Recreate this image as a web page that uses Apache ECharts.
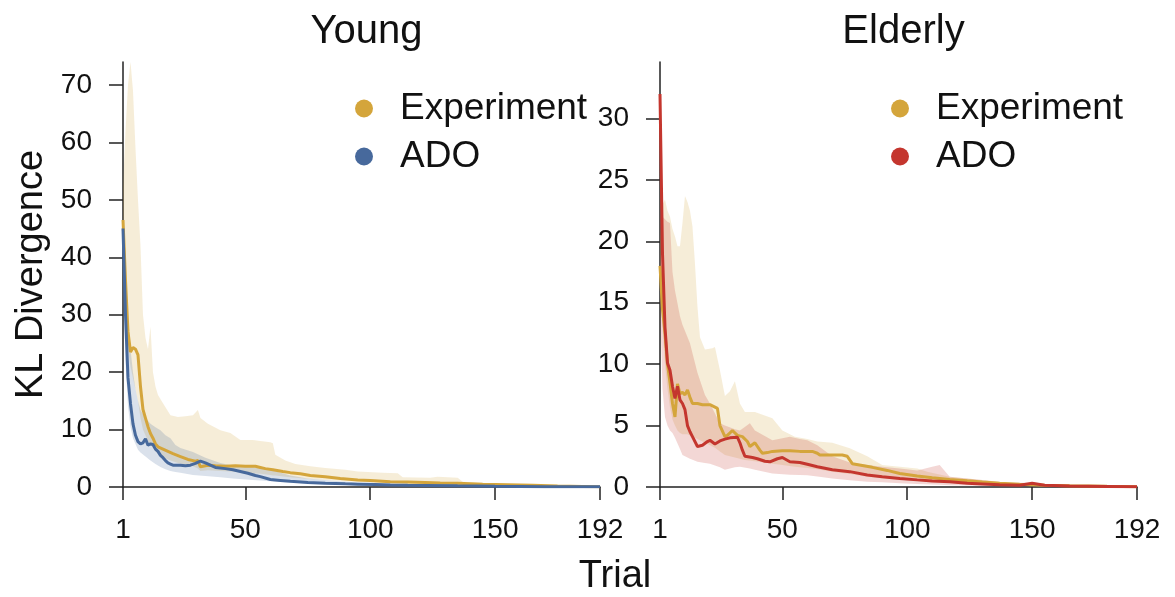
<!DOCTYPE html>
<html>
<head>
<meta charset="utf-8">
<script src="https://cdn.jsdelivr.net/npm/echarts@6/dist/echarts.min.js"></script>
<style>
html,body{margin:0;padding:0;background:#fff;}
#chart{width:1175px;height:597px;}
</style>
</head>
<body>
<div id="chart"></div>
<script>
// ---------- tick labels ----------
const xTicks = [1, 50, 100, 150, 192];
const youngYTicks = [0, 10, 20, 30, 40, 50, 60, 70];
const elderlyYTicks = [0, 5, 10, 15, 20, 25, 30];
const panelTitles = ['Young', 'Elderly'];
const seriesNames = ['Experiment', 'ADO'];

// ---------- Young: Experiment mean ----------
const youngExpT = [1,2,3,4,5,6,7,8,9,10,11,12,13,14,15,17,19,21,24,27,30,31,32,33,35,38,42,46,50,54,56,58,61,65,68,72,76,82,88,95,100,108,115,122,128,135,145,155,165,175,185,192];
const youngExpV = [46.5,36,27,23.5,24.3,24,23,17.5,13.5,12,10.5,9.3,8.5,7.5,7.0,6.6,6.2,5.8,5.3,4.8,4.5,4.6,3.5,3.6,3.8,3.7,3.6,3.7,3.6,3.6,3.4,3.2,3.0,2.7,2.5,2.3,2.0,1.8,1.5,1.2,1.15,0.9,0.85,0.8,0.7,0.64,0.5,0.4,0.3,0.17,0.1,0.05];
// ---------- Young: ADO mean ----------
const youngAdoT = [1,2,3,4,5,6,7,8,9,10,11,12,13,14,15,16,17,18,19,20,21,24,26,28,30,32,34,36,38,42,45,48,51,54,56,60,64,68,75,82,90,95,102,108,115,122,135,150,170,192];
const youngAdoV = [45,30,19,14.5,11,9,7.9,7.5,7.7,8.4,7.3,7.5,7.4,6.6,6.2,5.5,5.1,4.6,4.2,4.0,3.8,3.8,3.7,3.8,4.1,4.5,4.2,3.8,3.4,3.2,3.0,2.7,2.4,2.0,1.8,1.3,1.15,1.0,0.8,0.64,0.55,0.5,0.42,0.35,0.3,0.28,0.2,0.12,0.06,0.03];
// ---------- Young: Experiment band ----------
const youngExpBandT = [1,2,3,4,5,6,7,8,9,10,11,12,13,14,15,17,20,23,26,29,31,32,35,40,44,48,53,56,60,61,62,66,70,76,82,90,95,105,111,113,124,127,135,137,148,160,175,192];
const youngExpLo = [44,32,24,21,19,17,15,12,10,9,8,7.4,6.8,6.2,5.8,5.2,4.6,4.2,3.9,3.6,3.2,2.8,2.9,2.8,2.7,2.6,2.4,2.3,2.1,2.0,2.0,1.8,1.6,1.4,1.2,1.0,0.9,0.7,0.6,0.55,0.45,0.4,0.35,0.3,0.22,0.15,0.08,0.02];
const youngExpHi = [52,62,70,74,69,59,50,42,30,26,24,27.9,20,17.5,16,14.6,12.5,12.2,12.3,12.5,13.4,12,11,9.9,9.4,8.2,8.2,8.0,7.8,7.6,5.6,4.6,4.0,3.6,3.3,3.0,2.7,2.5,2.4,1.7,1.6,1.8,1.6,0.9,0.64,0.45,0.3,0.12];
// ---------- Young: ADO band ----------
const youngAdoBandT = [1,2,3,4,5,6,7,8,10,12,14,16,18,20,22,24,29,34,40,45,53,60,68,75,85,95,110,130,160,192];
const youngAdoLo = [43,22,14,10.5,8.5,7.5,6.5,6.0,5.3,4.6,4.0,3.5,3.1,2.8,2.6,2.5,2.1,1.9,1.7,1.5,1.2,1.0,0.8,0.6,0.45,0.35,0.22,0.12,0.05,0.01];
const youngAdoHi = [47,38,30,24,20,17,15,13.4,12,11,10.4,9.9,9.0,8.5,7.3,6.8,6.1,5.1,4.2,3.7,3.5,3.0,2.0,1.5,1.1,0.8,0.55,0.35,0.2,0.08];

// ---------- Elderly: Experiment mean ----------
const elderExpT = [1,2,3,4,5,6,7,8,9,10,11,12,13,14,16,18,21,24,25,27,28,30,32,34,36,37,39,41,42,44,46,50,53,57,62,64,65,70,74,76,78,86,92,97,104,110,117,124,130,137,145,155,165,180,192];
const elderExpV = [18,14.5,12.5,10,8.5,6.8,5.7,8.4,7.6,7.7,7.5,7.9,7.3,6.8,6.8,6.7,6.7,6.4,5.0,4.1,4.2,4.6,4.2,4.1,3.7,3.3,3.6,3.0,2.75,2.8,2.9,2.95,2.96,2.9,2.9,2.75,2.6,2.6,2.6,2.5,1.9,1.6,1.35,1.1,0.9,0.75,0.62,0.5,0.4,0.3,0.22,0.15,0.1,0.06,0.03];
// ---------- Elderly: ADO mean ----------
const elderAdoT = [1,2,3,4,5,6,7,8,9,10,11,12,13,14,16,18,20,21,23,25,27,29,32,33,34,35,38,40,43,45,48,50,53,57,60,64,70,77,84,90,97,104,110,117,124,130,137,145,150,155,165,180,192];
const elderAdoV = [32,19,13,10.1,9.5,8.2,7.2,8.2,7.1,6.8,6.3,5.0,4.5,4.1,3.3,3.4,3.7,3.8,3.5,3.75,3.9,4.0,4.05,3.6,3.0,2.5,2.4,2.3,2.1,2.05,2.3,2.4,2.06,2.0,1.85,1.65,1.4,1.25,0.98,0.84,0.7,0.58,0.49,0.42,0.3,0.25,0.18,0.15,0.3,0.14,0.08,0.05,0.03];
// ---------- Elderly: Experiment band ----------
const elderExpBandT = [1,2,3,4,5,6,7,8,9,10,11,12,13,14,15,16,17,19,22,23,25,27,29,31,33,35,39,46,50,55,60,64,70,77,84,90,97,104,108,117,130,137,150,165,192];
const elderExpLo = [16,13,10,8,6.5,5.5,5.0,4.6,4.4,4.3,4.3,4.3,4.2,4.1,4.0,3.9,3.8,3.6,3.3,3.2,2.9,2.6,2.5,2.4,2.3,2.2,2.1,1.9,1.8,1.65,1.55,1.45,1.25,1.05,0.84,0.72,0.6,0.5,0.45,0.38,0.28,0.22,0.12,0.06,0.01];
const elderExpHi = [20,23,23.4,22.5,22,21,20.4,19.6,19.6,21.5,23.7,23.2,22.5,21.2,18.2,14.7,12.2,11.2,11.3,11.4,9.5,7.4,7.8,8.6,6.8,6.1,6.1,5.6,4.6,4.1,3.9,3.7,3.6,3.15,2.5,1.8,1.65,1.5,1.25,0.84,0.57,0.4,0.25,0.15,0.05];
// ---------- Elderly: ADO band ----------
const elderAdoBandT = [1,2,3,4,5,6,7,9,10,13,16,19,21,25,27,31,33,37,39,46,53,57,60,64,70,77,84,90,97,104,110,113,117,130,140,150,155,192];
const elderAdoLo = [15,8,5.7,5.0,4.6,4.4,4.0,3.1,2.6,2.3,2.05,1.95,1.9,1.6,1.4,1.6,1.65,1.5,1.4,1.1,1.0,0.98,0.95,0.85,0.7,0.55,0.43,0.38,0.3,0.25,0.2,0.18,0.15,0.1,0.08,0.06,0.05,0.01];
const elderAdoHi = [22,22,21.8,21.6,21.5,17.5,16,13.9,13.2,11.7,9.3,7.5,6.8,5.2,5.0,4.7,4.6,5.2,4.6,3.8,4.1,3.9,3.8,3.4,2.5,2.0,1.8,1.65,1.5,1.35,1.65,1.8,0.84,0.57,0.35,0.35,0.15,0.05];

// ---------- styling ----------
const FONT = 'Liberation Sans, Arial, Helvetica, sans-serif';
const GOLD = '#D4A53B';
const BLUE = '#47699C';
const RED = '#C4362E';
const AXIS = '#222222';

function pairs(t, v) { return t.map((x, i) => [x, v[i]]); }

function band(xi, t, lo, hi, fill) {
  return {
    type: 'custom',
    xAxisIndex: xi, yAxisIndex: xi,
    silent: true,
    clip: true,
    z: 1,
    data: t.map((x, i) => [x, lo[i], hi[i]]),
    encode: { x: 0, y: [1, 2] },
    renderItem: function (params, api) {
      if (params.dataIndex !== 0) return null;
      const pts = [];
      for (let i = 0; i < t.length; i++) pts.push(api.coord([t[i], hi[i]]));
      for (let i = t.length - 1; i >= 0; i--) pts.push(api.coord([t[i], lo[i]]));
      return { type: 'polygon', shape: { points: pts }, style: { fill: fill } };
    }
  };
}

function line(xi, name, t, v, color, z) {
  return {
    type: 'line', name: name, xAxisIndex: xi, yAxisIndex: xi,
    data: pairs(t, v), showSymbol: false, symbol: 'none',
    lineStyle: { color: color, width: 3 }, itemStyle: { color: color },
    z: z, animation: false
  };
}

function xAxis(gi) {
  return {
    type: 'value', gridIndex: gi, min: 1, max: 192,
    axisLine: { show: true, onZero: false, lineStyle: { color: AXIS, width: 1.5 } },
    axisTick: { show: true, length: 13, customValues: xTicks, lineStyle: { color: AXIS, width: 1.5 } },
    axisLabel: { customValues: xTicks, fontSize: 28, color: '#111', fontFamily: FONT, margin: 29 },
    splitLine: { show: false }
  };
}

function yAxis(gi, max, ticks, name) {
  return {
    type: 'value', gridIndex: gi, min: 0, max: max,
    name: name, nameLocation: 'middle', nameGap: 72, nameRotate: 90,
    nameTextStyle: { fontSize: 38, color: '#111', fontFamily: FONT },
    axisLine: { show: true, onZero: false, lineStyle: { color: AXIS, width: 1.5 } },
    axisTick: { show: true, length: 14, customValues: ticks, lineStyle: { color: AXIS, width: 1.5 } },
    axisLabel: { customValues: ticks, fontSize: 28, color: '#111', fontFamily: FONT, margin: 31 },
    splitLine: { show: false }
  };
}

function legend(left, top, adoColor) {
  return {
    orient: 'vertical', left: left, top: top,
    icon: 'circle', itemWidth: 62, itemHeight: 18, itemGap: 11,
    textStyle: { fontSize: 37, color: '#111', fontFamily: FONT },
    data: [
      { name: seriesNames[0], itemStyle: { color: GOLD } },
      { name: seriesNames[1], itemStyle: { color: adoColor } }
    ],
    selectedMode: false
  };
}

const chart = echarts.init(document.getElementById('chart'), null, { renderer: 'canvas' });
chart.setOption({
  backgroundColor: '#ffffff',
  animation: false,
  title: [
    { text: panelTitles[0], left: 361.5, top: 7, textAlign: 'center', textStyle: { fontSize: 40, fontWeight: 'normal', color: '#111', fontFamily: FONT } },
    { text: panelTitles[1], left: 898.5, top: 7, textAlign: 'center', textStyle: { fontSize: 40, fontWeight: 'normal', color: '#111', fontFamily: FONT } }
  ],
  grid: [
    { left: 123, right: 575, top: 62, bottom: 110, containLabel: false },
    { left: 660, right: 38, top: 62, bottom: 110, containLabel: false }
  ],
  legend: [legend(350, 85, BLUE), legend(886, 85, RED)],
  xAxis: [xAxis(0), xAxis(1)],
  yAxis: [yAxis(0, 74, youngYTicks, 'KL Divergence'), yAxis(1, 34.6, elderlyYTicks, '')],
  graphic: [
    { type: 'text', x: 615, y: 577, style: { text: 'Trial', fontSize: 38, fill: '#111', fontFamily: FONT, textAlign: 'center', textVerticalAlign: 'middle' } }
  ],
  series: [
    band(0, youngExpBandT, youngExpLo, youngExpHi, 'rgba(212,165,59,0.2)'),
    band(0, youngAdoBandT, youngAdoLo, youngAdoHi, 'rgba(71,105,156,0.2)'),
    line(0, seriesNames[0], youngExpT, youngExpV, GOLD, 3),
    line(0, seriesNames[1], youngAdoT, youngAdoV, BLUE, 4),
    band(1, elderExpBandT, elderExpLo, elderExpHi, 'rgba(212,165,59,0.2)'),
    band(1, elderAdoBandT, elderAdoLo, elderAdoHi, 'rgba(196,54,46,0.2)'),
    line(1, seriesNames[0], elderExpT, elderExpV, GOLD, 3),
    line(1, seriesNames[1], elderAdoT, elderAdoV, RED, 4)
  ]
});
</script>
</body>
</html>
